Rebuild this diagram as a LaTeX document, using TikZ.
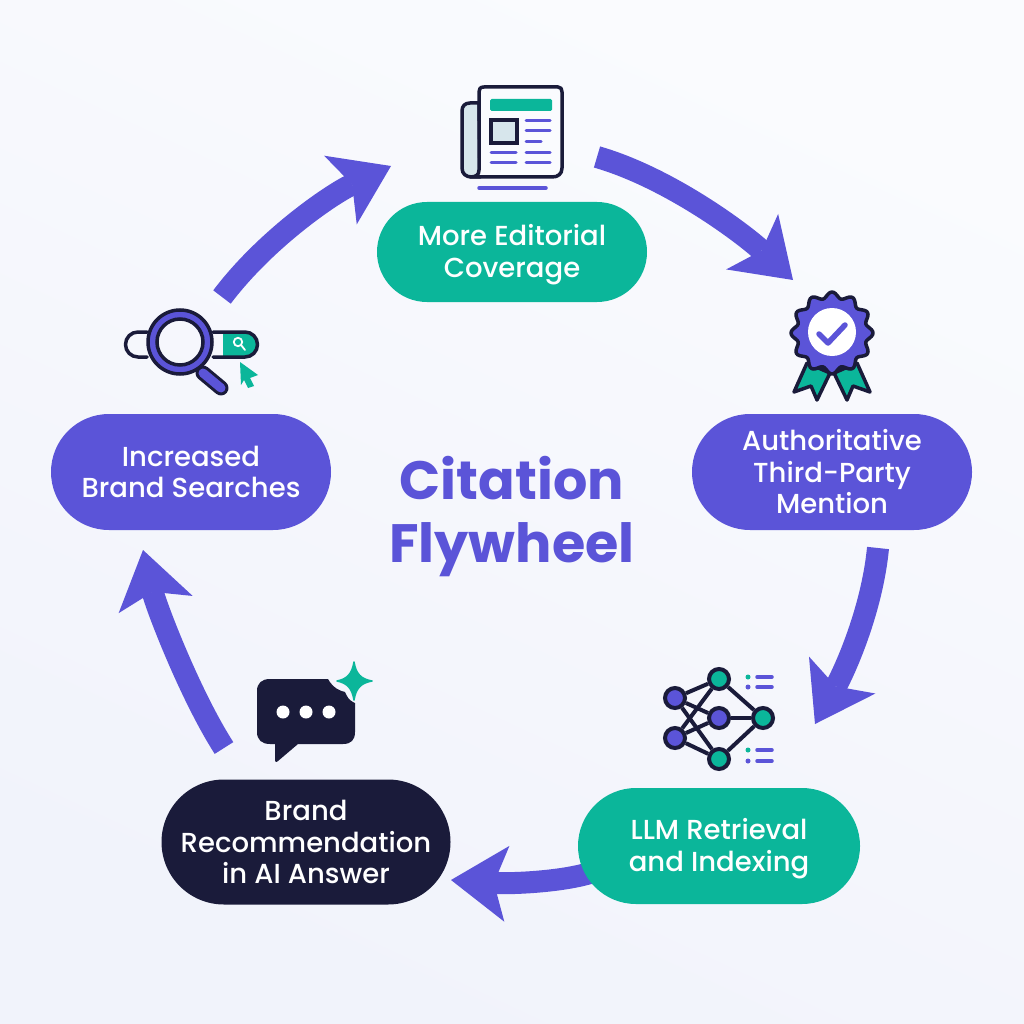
\documentclass[tikz,border=0pt]{standalone}
\usepackage{fontspec}
\setmainfont{Poppins Medium}
\newfontfamily\titlefont{Poppins Bold}
\usetikzlibrary{arrows.meta,shapes.misc}

\definecolor{flyviolet}{HTML}{5B54D8}
\definecolor{flygreen}{HTML}{0BB69A}
\definecolor{flydark}{HTML}{1A1B3A}
\definecolor{flypale}{HTML}{D7E6EC}
\definecolor{flybgA}{HTML}{F1F3FB}
\definecolor{flybgB}{HTML}{FAFBFE}

\tikzset{
  pill/.style={rounded rectangle, rounded rectangle arc length=180, text=white, align=center,
    font=\fontsize{27.5}{31.5}\selectfont, inner sep=0pt},
  flowarrow/.style={draw=flyviolet, line width=22pt,
    -{Stealth[length=56pt,width=76pt,inset=13pt,line width=0pt]}},
  iconline/.style={draw=flydark, line width=3.5pt, line join=round, line cap=round},
  textline/.style={draw=flyviolet, line width=3pt, line cap=round},
  netnode/.style={circle, draw=flydark, line width=4pt, minimum size=20pt, inner sep=0pt},
  netedge/.style={draw=flydark, line width=4pt},
}

\begin{document}
\begin{tikzpicture}[x=1pt,y=-1pt]

  \useasboundingbox (0,0) rectangle (1024,1024);
  \fill[bottom color=flybgA, top color=flybgB, shading angle=-25] (0,0) rectangle (1024,1024);

  \coordinate (searchesOut) at (222,297);
  \coordinate (coverageIn) at (391,166);
  \coordinate (coverageOut) at (597,157);
  \coordinate (mentionIn) at (793,280);
  \coordinate (mentionOut) at (878,548);
  \coordinate (llmIn) at (815,724);
  \coordinate (llmOut) at (590,873);
  \coordinate (brandIn) at (451,880);
  \coordinate (brandOut) at (224,748);
  \coordinate (searchesIn) at (143,550);

  \draw[flowarrow] (searchesOut) .. controls (265,240) and (330,195) .. (coverageIn);
  \draw[flowarrow] (coverageOut) .. controls (670,178) and (745,235) .. (mentionIn);
  \draw[flowarrow] (mentionOut) .. controls (872,610) and (845,670) .. (llmIn);
  \draw[flowarrow] (llmOut) .. controls (560,882) and (510,884) .. (brandIn);
  \draw[flowarrow] (brandOut) .. controls (190,695) and (156,606) .. (searchesIn);

  \node[pill, fill=flygreen, minimum width=270pt, minimum height=100pt, text depth=2pt] (coverage) at (512,252)
    {More Editorial\\Coverage};
  \node[pill, fill=flyviolet, minimum width=280pt, minimum height=116pt] (mention) at (832,472)
    {Authoritative\\Third-Party\\Mention};
  \node[pill, fill=flygreen, minimum width=282pt, minimum height=116pt, text depth=2pt] (llm) at (719,846)
    {LLM Retrieval\\and Indexing};
  \node[pill, fill=flydark, minimum width=289pt, minimum height=125pt] (brand) at (306,842)
    {Brand\\Recommendation\\in AI Answer};
  \node[pill, fill=flyviolet, minimum width=280pt, minimum height=116pt] (searches) at (191,472)
    {Increased\\Brand Searches};

  \node[text=flyviolet, align=center, font=\titlefont\fontsize{54}{63}\selectfont] (title) at (512,517)
    {Citation\\Flywheel};

  % newspaper
  \draw[iconline, fill=flypale] (479,103) -- (470,103) .. controls (465,103) and (462,106) .. (462,111)
    -- (462,168) .. controls (462,174) and (466,177) .. (472,177) -- (480,177) -- cycle;
  \draw[iconline, fill=flybgB] (479,170) -- (479,92) .. controls (479,89) and (480,87) .. (484,87)
    -- (558,87) .. controls (561,87) and (562,89) .. (562,92) -- (562,168)
    .. controls (562,174) and (558,177) .. (552,177) -- (470,177)
    .. controls (476,177) and (479,175) .. (479,170) -- cycle;
  \fill[flygreen, rounded corners=1.5pt] (490,99) rectangle (552,111);
  \draw[draw=flydark, line width=3.5pt, fill=flypale] (491,120) rectangle (517,143);
  \foreach \ya in {121,131} \draw[textline] (526,\ya) -- (550,\ya);
  \draw[textline] (526,142) -- (541,142);
  \foreach \ya in {153,163} {
    \draw[textline] (491,\ya) -- (516,\ya);
    \draw[textline] (526,\ya) -- (550,\ya);
  }
  \draw[textline, line width=3.5pt] (479,188) -- (546,188);

  % rosette
  \draw[iconline, fill=flygreen] (807,363) -- (794,392) -- (811,386) -- (817,400) -- (830,373) -- cycle;
  \draw[iconline, fill=flygreen] (857,363) -- (870,392) -- (853,386) -- (847,400) -- (834,373) -- cycle;
  \draw[iconline, fill=flyviolet] plot[smooth cycle, samples=144, domain=0:357.5]
    ({832+(38+3*cos(12*\x))*cos(\x)}, {333+(38+3*cos(12*\x))*sin(\x)});
  \fill[white] (832,332) circle (24);
  \draw[draw=flyviolet, line width=5.5pt, line cap=round, line join=round]
    (819,334) -- (828,343) -- (845,325);

  % network
  \node[netnode, fill=flyviolet] (inA) at (675,698) {};
  \node[netnode, fill=flyviolet] (inB) at (675,738) {};
  \node[netnode, fill=flygreen] (midA) at (719,679) {};
  \node[netnode, fill=flyviolet] (midB) at (719,718) {};
  \node[netnode, fill=flygreen] (midC) at (719,759) {};
  \node[netnode, fill=flygreen] (outA) at (763,718) {};
  \foreach \a in {inA,inB} \foreach \b in {midA,midB,midC}
    \draw[netedge] (\a) -- (\b);
  \foreach \b in {midA,midB,midC}
    \draw[netedge] (\b) -- (outA);
  \foreach \ya/\dotcolor in {677/flygreen,687/flyviolet,750/flygreen,761/flyviolet} {
    \fill[\dotcolor] (748,\ya) circle (2.5);
    \draw[textline, line width=3.5pt] (757,\ya) -- (772,\ya);
  }

  % chat bubble
  \fill[flydark] (270,679) -- (328,679) .. controls (333,688) and (340,691) .. (345,692)
    .. controls (347,696) and (348,700) .. (355,703) -- (355,732)
    .. controls (355,740) and (351,744) .. (343,744) -- (298,744) -- (278,761)
    .. controls (276,763) and (275,762) .. (275,759) -- (275,744) -- (270,744)
    .. controls (262,744) and (257,740) .. (257,732) -- (257,691)
    .. controls (257,683) and (262,679) .. (270,679) -- cycle;
  \foreach \xa in {283,306,329} \fill[white] (\xa,712) circle (6.5);
  \fill[flygreen, draw=flygreen, line width=1.5pt, line join=round] (354,662) .. controls (356,674) and (361,679) .. (372,681)
    .. controls (361,683) and (356,688) .. (354,700)
    .. controls (352,688) and (347,683) .. (337,681)
    .. controls (347,679) and (352,674) .. (354,662) -- cycle;

  % search
  \fill[flygreen] (223,332) -- (245,332) arc[start angle=-90, end angle=90, radius=12.5] -- (223,357) -- cycle;
  \draw[iconline] (147,332) -- (138,332) arc[start angle=-90, end angle=-270, radius=12.5] -- (147,357);
  \draw[iconline] (213,332) -- (245,332) arc[start angle=-90, end angle=90, radius=12.5] -- (213,357);
  \draw[draw=white, line width=1.8pt] (238,342) circle (4.2);
  \draw[draw=white, line width=1.8pt, line cap=round] (241,345) -- (245,350);
  \draw[draw=flydark, line width=15pt, line cap=round] (203,373) -- (221,388);
  \draw[draw=flyviolet, line width=9pt, line cap=round] (203,373) -- (221,388);
  \draw[draw=flyviolet, line width=9pt] (180,342) circle (27.5);
  \draw[draw=flydark, line width=3.5pt] (180,342) circle (32);
  \draw[draw=flydark, line width=3.5pt] (180,342) circle (23);
  \fill[flygreen] (240,362) -- (258,375) -- (250,378) -- (254,386) -- (248,388) -- (244,380) -- (241,385) -- cycle;

\end{tikzpicture}
\end{document}
